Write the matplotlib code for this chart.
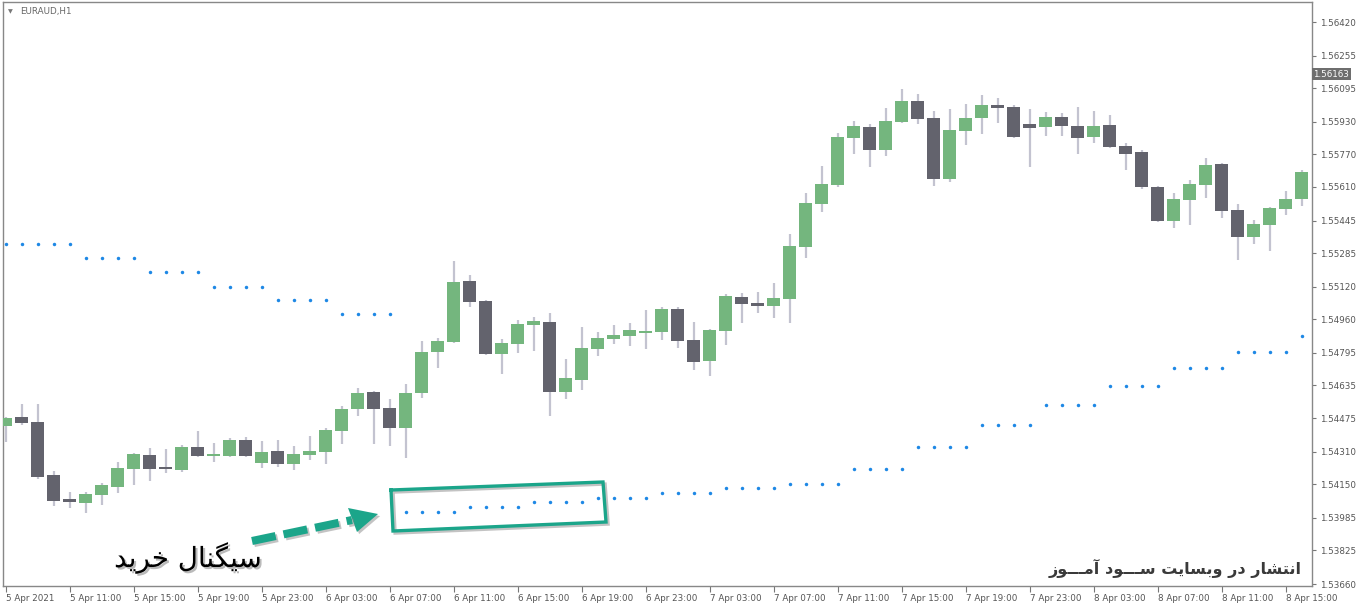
import matplotlib
matplotlib.use('Agg')
import matplotlib.pyplot as plt
import matplotlib.patheffects as pe
from matplotlib.patches import Polygon
import numpy as np

# ---------------- data ----------------
symbol = "EURAUD,H1"
time_labels = ["5 Apr 2021", "5 Apr 11:00", "5 Apr 15:00", "5 Apr 19:00", "5 Apr 23:00",
               "6 Apr 03:00", "6 Apr 07:00", "6 Apr 11:00", "6 Apr 15:00", "6 Apr 19:00",
               "6 Apr 23:00", "7 Apr 03:00", "7 Apr 07:00", "7 Apr 11:00", "7 Apr 15:00",
               "7 Apr 19:00", "7 Apr 23:00", "8 Apr 03:00", "8 Apr 07:00", "8 Apr 11:00",
               "8 Apr 15:00"]
bars_per_label = 4
price_ticks = [1.56420, 1.56255, 1.56095, 1.55930, 1.55770, 1.55610, 1.55445, 1.55285,
               1.55120, 1.54960, 1.54795, 1.54635, 1.54475, 1.54310, 1.54150, 1.53985,
               1.53825, 1.53660]
last_price = 1.56163

opens = [1.54436, 1.54481, 1.54456, 1.54196, 1.54078, 1.54058, 1.54098, 1.54137, 1.54225, 1.54294,
         1.54235, 1.54220, 1.54333, 1.54289, 1.54289, 1.54368, 1.54255, 1.54314, 1.54250, 1.54294,
         1.54309, 1.54412, 1.54520, 1.54603, 1.54525, 1.54427, 1.54598, 1.54800, 1.54849, 1.55148,
         1.55050, 1.54790, 1.54839, 1.54932, 1.54947, 1.54603, 1.54662, 1.54814, 1.54864, 1.54878,
         1.54893, 1.54898, 1.55011, 1.54859, 1.54755, 1.54903, 1.55070, 1.55040, 1.55026, 1.55060,
         1.55315, 1.55526, 1.55620, 1.55850, 1.55904, 1.55791, 1.55929, 1.56032, 1.55949, 1.55649,
         1.55885, 1.55949, 1.56012, 1.56003, 1.55919, 1.55904, 1.55954, 1.55909, 1.55855, 1.55914,
         1.55811, 1.55782, 1.55610, 1.55443, 1.55546, 1.55620, 1.55723, 1.55497, 1.55364, 1.55423,
         1.55502, 1.55551]
highs = [1.54481, 1.54544, 1.54544, 1.54215, 1.54112, 1.54112, 1.54156, 1.54260, 1.54304, 1.54328,
         1.54323, 1.54343, 1.54412, 1.54353, 1.54377, 1.54382, 1.54363, 1.54368, 1.54338, 1.54387,
         1.54427, 1.54535, 1.54623, 1.54608, 1.54569, 1.54643, 1.54854, 1.54868, 1.55246, 1.55178,
         1.55055, 1.54864, 1.54957, 1.54972, 1.54991, 1.54765, 1.54922, 1.54898, 1.54932, 1.54942,
         1.55006, 1.55021, 1.55021, 1.54947, 1.54913, 1.55084, 1.55089, 1.55094, 1.55138, 1.55379,
         1.55580, 1.55713, 1.55875, 1.55934, 1.55919, 1.55998, 1.56091, 1.56066, 1.55983, 1.55993,
         1.56017, 1.56062, 1.56047, 1.56012, 1.55993, 1.55978, 1.55973, 1.56003, 1.55983, 1.55963,
         1.55826, 1.55791, 1.55615, 1.55580, 1.55644, 1.55752, 1.55728, 1.55526, 1.55448, 1.55512,
         1.55590, 1.55693]
lows = [1.54358, 1.54441, 1.54176, 1.54044, 1.54034, 1.54009, 1.54048, 1.54107, 1.54147, 1.54166,
        1.54206, 1.54210, 1.54284, 1.54260, 1.54284, 1.54284, 1.54230, 1.54235, 1.54220, 1.54269,
        1.54250, 1.54348, 1.54485, 1.54348, 1.54338, 1.54279, 1.54574, 1.54721, 1.54844, 1.55021,
        1.54785, 1.54692, 1.54795, 1.54805, 1.54485, 1.54569, 1.54613, 1.54780, 1.54839, 1.54829,
        1.54814, 1.54859, 1.54819, 1.54711, 1.54682, 1.54834, 1.54942, 1.54991, 1.54967, 1.54942,
        1.55261, 1.55487, 1.55610, 1.55772, 1.55708, 1.55762, 1.55924, 1.55919, 1.55615, 1.55634,
        1.55816, 1.55870, 1.55924, 1.55850, 1.55708, 1.55860, 1.55860, 1.55772, 1.55826, 1.55801,
        1.55693, 1.55600, 1.55438, 1.55409, 1.55423, 1.55556, 1.55458, 1.55251, 1.55330, 1.55296,
        1.55472, 1.55517]
closes = [1.54476, 1.54451, 1.54186, 1.54068, 1.54063, 1.54102, 1.54147, 1.54230, 1.54299, 1.54225,
          1.54225, 1.54333, 1.54289, 1.54299, 1.54368, 1.54289, 1.54309, 1.54250, 1.54299, 1.54314,
          1.54417, 1.54520, 1.54598, 1.54520, 1.54427, 1.54598, 1.54800, 1.54854, 1.55143, 1.55045,
          1.54790, 1.54844, 1.54937, 1.54952, 1.54603, 1.54672, 1.54819, 1.54868, 1.54883, 1.54908,
          1.54903, 1.55011, 1.54854, 1.54751, 1.54908, 1.55075, 1.55035, 1.55026, 1.55065, 1.55320,
          1.55531, 1.55625, 1.55855, 1.55909, 1.55791, 1.55934, 1.56032, 1.55944, 1.55649, 1.55890,
          1.55949, 1.56012, 1.55998, 1.55855, 1.55900, 1.55954, 1.55909, 1.55850, 1.55909, 1.55806,
          1.55772, 1.55610, 1.55443, 1.55551, 1.55625, 1.55718, 1.55492, 1.55364, 1.55428, 1.55507,
          1.55551, 1.55683]
sar = [1.55330, 1.55330, 1.55330, 1.55330, 1.55330,
       1.55261, 1.55261, 1.55261, 1.55261,
       1.55192, 1.55192, 1.55192, 1.55192,
       1.55119, 1.55119, 1.55119, 1.55119,
       1.55055, 1.55055, 1.55055, 1.55055,
       1.54986, 1.54986, 1.54986, 1.54986,
       1.54014, 1.54014, 1.54014, 1.54014,
       1.54039, 1.54039, 1.54039, 1.54039,
       1.54063, 1.54063, 1.54063, 1.54063,
       1.54083, 1.54083, 1.54083, 1.54083,
       1.54107, 1.54107, 1.54107, 1.54107,
       1.54132, 1.54132, 1.54132, 1.54132,
       1.54152, 1.54152, 1.54152, 1.54152,
       1.54225, 1.54225, 1.54225, 1.54225,
       1.54333, 1.54333, 1.54333, 1.54333,
       1.54441, 1.54441, 1.54441, 1.54441,
       1.54539, 1.54539, 1.54539, 1.54539,
       1.54633, 1.54633, 1.54633, 1.54633,
       1.54721, 1.54721, 1.54721, 1.54721,
       1.54800, 1.54800, 1.54800, 1.54800,
       1.54878]

signal_text = "سیگنال خرید"
watermark_text = "انتشار در وبسایت ســـود آمـــوز"

# ---------------- simple Arabic/Persian shaping ----------------
FORMS = {
    '\u0627': ('\uFE8D', '\uFE8E', None, None),
    '\u0622': ('\uFE81', '\uFE82', None, None),
    '\u0628': ('\uFE8F', '\uFE90', '\uFE91', '\uFE92'),
    '\u062A': ('\uFE95', '\uFE96', '\uFE97', '\uFE98'),
    '\u062E': ('\uFEA5', '\uFEA6', '\uFEA7', '\uFEA8'),
    '\u062F': ('\uFEA9', '\uFEAA', None, None),
    '\u0631': ('\uFEAD', '\uFEAE', None, None),
    '\u0632': ('\uFEAF', '\uFEB0', None, None),
    '\u0633': ('\uFEB1', '\uFEB2', '\uFEB3', '\uFEB4'),
    '\u0634': ('\uFEB5', '\uFEB6', '\uFEB7', '\uFEB8'),
    '\u0644': ('\uFEDD', '\uFEDE', '\uFEDF', '\uFEE0'),
    '\u0645': ('\uFEE1', '\uFEE2', '\uFEE3', '\uFEE4'),
    '\u0646': ('\uFEE5', '\uFEE6', '\uFEE7', '\uFEE8'),
    '\u0648': ('\uFEED', '\uFEEE', None, None),
    '\u06CC': ('\uFBFC', '\uFBFD', '\uFBFE', '\uFBFF'),
    '\u06AF': ('\uFB92', '\uFB93', '\uFB94', '\uFB95'),
}
TATWEEL = '\u0640'


def _dual(ch):
    return ch == TATWEEL or (ch in FORMS and FORMS[ch][2] is not None)


def _joins(ch):
    return ch == TATWEEL or ch in FORMS


def shape(s):
    out = []
    for i, ch in enumerate(s):
        if ch not in FORMS:
            out.append(ch)
            continue
        prev = s[i - 1] if i > 0 else ''
        nxt = s[i + 1] if i + 1 < len(s) else ''
        jp = prev != '' and _dual(prev)
        jn = nxt != '' and _joins(nxt) and FORMS[ch][2] is not None
        iso, fin, ini, med = FORMS[ch]
        if jp and jn:
            out.append(med)
        elif jp:
            out.append(fin)
        elif jn:
            out.append(ini)
        else:
            out.append(iso)
    return ''.join(reversed(out))


# ---------------- figure ----------------
W, H = 1360, 605
fig = plt.figure(figsize=(W / 100, H / 100), dpi=100, facecolor='white')
ax_l, ax_r, ax_t, ax_b = 3, 1312, 2, 586
ax = fig.add_axes([ax_l / W, 1 - ax_b / H, (ax_r - ax_l) / W, (ax_b - ax_t) / H])
ax.set_facecolor('white')

o = np.array(opens); h = np.array(highs); l = np.array(lows); c = np.array(closes)
x = np.arange(len(o))
bull = c >= o
green = '#74B67E'
dark = '#63636D'
wick = '#C3C3D0'

ax.vlines(x, l, h, color=wick, lw=1.6, zorder=2)
body_bottom = np.minimum(o, c)
body_h = np.maximum(np.abs(c - o), 0.00004)
ax.bar(x, body_h, bottom=body_bottom, width=0.86,
       color=np.where(bull, green, dark), edgecolor='none', zorder=3)

ax.plot(x, sar, linestyle='none', marker='o', markersize=2.5, color='#1E88E5',
        markeredgewidth=0, zorder=4)

# axes ranges
px_per_bar = 16.0
x0_px = 5.5
ax.set_xlim((ax_l - x0_px) / px_per_bar, (ax_r - x0_px) / px_per_bar)
ppx = (price_ticks[0] - price_ticks[-1]) / (584 - 22)
top_price = price_ticks[0] + ppx * (22 - ax_t)
bot_price = price_ticks[-1] - ppx * (ax_b - 584)
ax.set_ylim(bot_price, top_price)

# ticks
ax.yaxis.tick_right()
ax.set_yticks(price_ticks)
ax.set_yticklabels([f"{v:.5f}" for v in price_ticks])
ax.set_xticks(np.arange(len(time_labels)) * bars_per_label)
ax.set_xticklabels(time_labels, ha='left')
ax.tick_params(axis='y', length=3, width=0.8, color='#777777', pad=3,
               labelsize=6.3, labelcolor='#555555')
ax.tick_params(axis='x', length=4, width=0.8, color='#777777', pad=2,
               labelsize=6.3, labelcolor='#555555')
for lab in ax.get_xticklabels():
    lab.set_horizontalalignment('left')
for s in ax.spines.values():
    s.set_color('#888888')
    s.set_linewidth(1.0)

# current price label
ax.text(1.001, last_price, f"{last_price:.5f}", transform=ax.get_yaxis_transform(),
        ha='left', va='center', fontsize=6.3, color='white',
        bbox=dict(boxstyle='square,pad=0.18', fc='#6E6E6E', ec='none'), zorder=10)

# symbol label
ax.text(0.004, 0.983, "\u25BC", transform=ax.transAxes, fontsize=4.5, color='#777777',
        ha='left', va='center')
ax.text(0.013, 0.983, symbol, transform=ax.transAxes, fontsize=6.3, color='#666666',
        ha='left', va='center')

# ---------------- annotations (overlay in figure pixels) ----------------
ov = fig.add_axes([0, 0, 1, 1], facecolor='none')
ov.set_xlim(0, W)
ov.set_ylim(H, 0)
ov.axis('off')

teal = '#1BA58A'
line_shadow = [pe.SimpleLineShadow(offset=(1.5, -1.5), shadow_color='#888888', alpha=0.5),
               pe.Normal()]
rx = [391, 603, 606, 393, 391]
ry = [490, 482, 522, 531, 490]
rect, = ov.plot(rx, ry, color=teal, lw=2.4, solid_joinstyle='miter')
rect.set_path_effects(line_shadow)

line, = ov.plot([252, 352], [541, 520], color=teal, lw=5.8, solid_capstyle='butt',
                dash_capstyle='butt', linestyle=(0, (3.0, 1.0)))
line.set_path_effects(line_shadow)
head = Polygon([[348, 508], [378, 514], [357, 532]], closed=True, fc=teal, ec='none')
head.set_path_effects([pe.SimplePatchShadow(offset=(1.5, -1.5), shadow_rgbFace='#888888', alpha=0.5),
                       pe.Normal()])
ov.add_patch(head)

t1 = ov.text(188, 558, shape(signal_text), fontsize=20, color='black', ha='center', va='center',
             family=['DejaVu Sans'])
t1.set_path_effects([pe.withSimplePatchShadow(offset=(1.5, -1.5), shadow_rgbFace='#777777', alpha=0.5)])

ov.text(1302, 568, shape(watermark_text), fontsize=11.5, fontweight='bold', color='#3A3A3A',
        ha='right', va='center', family=['DejaVu Sans'])

fig.savefig('out.png', dpi=100, facecolor='white')
